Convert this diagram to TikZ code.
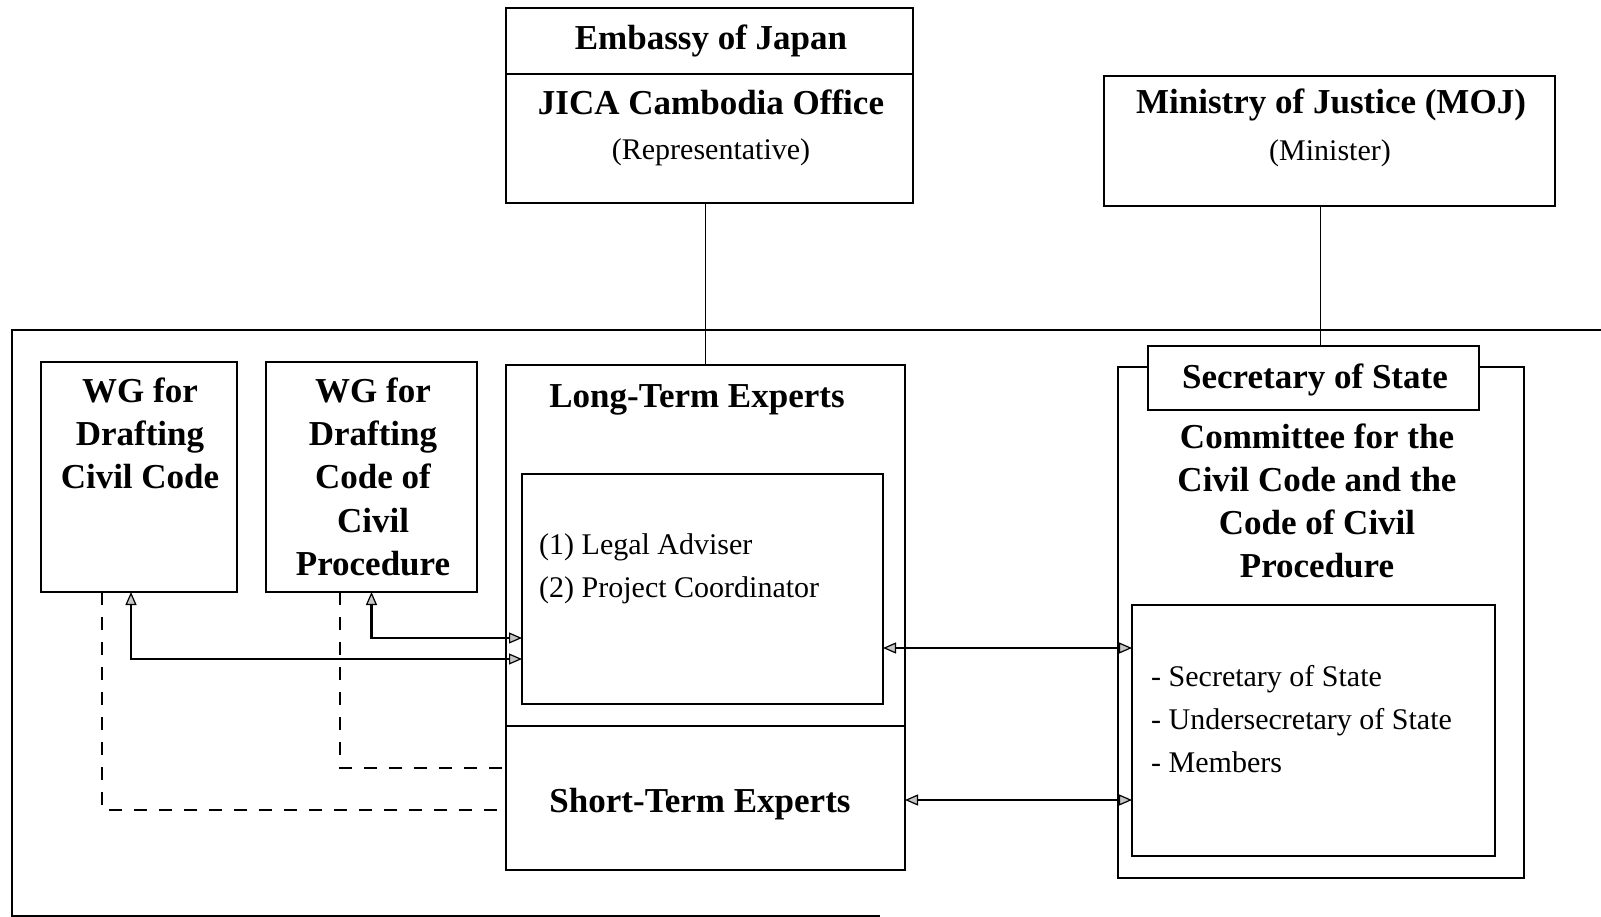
\documentclass[tikz,border=0pt]{standalone}
\usepackage{fontspec}
\setmainfont{Liberation Serif}
\usetikzlibrary{arrows.meta,calc}
\newcommand\hdfont{\fontsize{35}{43}\selectfont\bfseries}
\newcommand\rgfont{\fontsize{30}{43}\selectfont}
\begin{document}
\begin{tikzpicture}[x=1pt,y=-1pt,
  box/.style={draw,line width=1.7pt,anchor=north west,inner sep=0pt,outer sep=0pt},
  wbox/.style={box,fill=white},
  hd/.style={font=\hdfont,anchor=base,inner sep=0pt},
  rg/.style={font=\rgfont,anchor=base,inner sep=0pt},
  rgl/.style={font=\rgfont,anchor=base west,inner sep=0pt},
  conn/.style={line width=1.7pt},
  tip/.tip={Triangle[length=13pt,width=11pt,fill=gray!45,line width=1.2pt]},
  arr/.style={line width=2.8pt,tip-tip},
  dsh/.style={line width=2.6pt,dash pattern=on 13pt off 12pt}
]
\fill[white,use as bounding box] (0,0) rectangle (1601,917);

% outer frame
\draw[line width=2.2pt] (1610,330) -- (12,330) -- (12,916) -- (880,916);

% top boxes
\node[box,minimum width=407pt,minimum height=66pt] (emb) at (506,8) {};
\node[box,minimum width=407pt,minimum height=129pt] (jica) at (506,74) {};
\node[box,minimum width=451pt,minimum height=130pt] (moj) at (1104,76) {};

\node[hd] (tEmb) at (711,50) {Embassy of Japan};
\node[hd] (tJica) at (711,115) {JICA Cambodia Office};
\node[rg] (tRep) at (711,160) {(Representative)};
\node[hd] (tMoj) at (1331,114) {Ministry of Justice (MOJ)};
\node[rg] (tMin) at (1330,161) {(Minister)};

% working groups
\node[box,minimum width=196pt,minimum height=230pt] (wgcc) at (41,362) {};
\node[box,minimum width=211pt,minimum height=230pt] (wgccp) at (266,362) {};
\node[hd] (wa1) at (140,402) {WG for};
\node[hd] (wa2) at (140,445) {Drafting};
\node[hd] (wa3) at (140,488) {Civil Code};
\node[hd] (wb1) at (373,402) {WG for};
\node[hd] (wb2) at (373,445) {Drafting};
\node[hd] (wb3) at (373,488) {Code of};
\node[hd] (wb4) at (373,532) {Civil};
\node[hd] (wb5) at (373,575) {Procedure};

% experts
\node[box,minimum width=399pt,minimum height=361pt] (lt) at (506,365) {};
\node[box,minimum width=399pt,minimum height=144pt] (st) at (506,726) {};
\node[box,minimum width=361pt,minimum height=230pt] (inner) at (522,474) {};
\node[hd] (tLt) at (697,407) {Long-Term Experts};
\node[hd] (tSt) at (700,812) {Short-Term Experts};
\node[rgl] (tLa) at (539,554) {(1) Legal Adviser};
\node[rgl] (tPc) at (539,597) {(2) Project Coordinator};

% committee
\node[box,minimum width=406pt,minimum height=511pt] (comm) at (1118,367) {};
\node[wbox,minimum width=331pt,minimum height=64pt] (sec) at (1148,346) {};
\node[box,minimum width=363pt,minimum height=251pt] (mem) at (1132,605) {};
\node[hd] (tSec) at (1315,388) {Secretary of State};
\node[hd] (c1) at (1317,448) {Committee for the};
\node[hd] (c2) at (1317,491) {Civil Code and the};
\node[hd] (c3) at (1317,534) {Code of Civil};
\node[hd] (c4) at (1317,577) {Procedure};
\node[rgl] (m1) at (1151,686) {- Secretary of State};
\node[rgl] (m2) at (1151,729) {- Undersecretary of State};
\node[rgl] (m3) at (1151,772) {- Members};

% connectors
\draw[conn] (lt.north) -- (lt.north |- jica.south);
\draw[conn] ([xshift=7pt]sec.north) -- ([xshift=7pt]sec.north |- moj.south);

\draw[arr] ([xshift=-8pt]wgcc.south) |- (inner.west |- 0,659);
\draw[arr] (wgccp.south) |- (inner.west |- 0,638);
\draw[arr] (inner.east |- 0,648) -- (mem.west |- 0,648);
\draw[arr] (st.east |- 0,800) -- (mem.west |- 0,800);

\draw[dsh] (wgcc.south -| 102,0) |- (st.west |- 0,810);
\draw[dsh] (wgccp.south -| 340,0) |- (st.west |- 0,768);
\end{tikzpicture}
\end{document}
